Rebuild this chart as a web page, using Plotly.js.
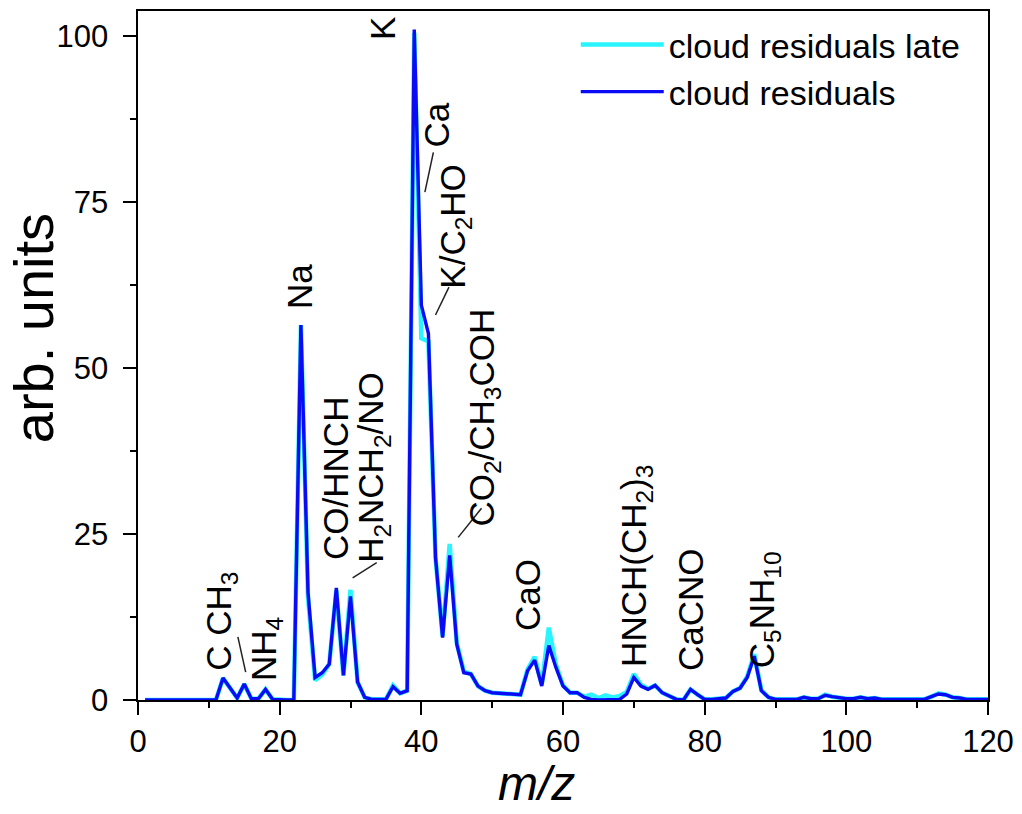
<!DOCTYPE html>
<html>
<head>
<meta charset="utf-8">
<script src="https://cdn.plot.ly/plotly-3.0.1.min.js"></script>
<style>html,body{margin:0;padding:0;background:#fff;}#chart{width:1022px;height:814px;}</style>
</head>
<body>
<div id="chart"></div>
<script>
const mz = [1,2,3,4,5,6,7,8,9,10,11,12,13,14,15,16,17,18,19,20,
  21,22,23,24,25,26,27,28,29,30,31,32,33,34,35,36,37,38,39,40,
  41,42,43,44,45,46,47,48,49,50,51,52,53,54,55,56,57,58,59,60,
  61,62,63,64,65,66,67,68,69,70,71,72,73,74,75,76,77,78,79,80,
  81,82,83,84,85,86,87,88,89,90,91,92,93,94,95,96,97,98,99,100,
  101,102,103,104,105,106,107,108,109,110,111,112,113,114,115,116,117,118,119,120];

const cloudResiduals = [0,0,0,0,0,0,0,0,0,0,0,3.3,1.8,0.3,2.4,0.2,0.2,1.6,0.1,0,
  0,0,56.5,16.2,3.4,4.1,5.4,16.9,3.7,15.6,2.7,0.4,0.1,0.1,0.1,2.0,1.0,1.4,101,59.5,
  55.2,21.5,9.4,21.8,8.4,4.1,3.9,2.1,1.4,1.1,1.0,0.9,0.8,0.8,4.4,6.0,2.1,8.2,4.9,2.1,
  1.1,1.1,0.4,0.1,0,0,0,0.1,0.9,3.4,2.1,1.6,2.2,1.1,0.6,0.1,0,1.6,0.8,0.1,
  0.1,0.2,0.3,1.3,1.8,3.4,6.6,1.4,0.4,0.1,0.1,0.1,0.1,0.4,0.2,0.2,0.7,0.5,0.3,0.2,
  0.2,0.4,0.2,0.3,0.1,0.1,0.1,0.1,0.1,0.1,0.1,0.5,0.9,0.8,0.4,0.3,0.1,0.1,0.1,0.1];

const cloudResidualsLate = [0,0,0,0,0,0,0,0,0,0,0,3.3,1.8,0.3,2.4,0.2,0.2,1.6,0.1,0,
  0,0,56.5,15.5,3.0,3.8,5.4,16.5,3.7,16.6,2.7,0.4,0.1,0.1,0.1,2.2,1.0,1.4,100.5,54.5,
  54.0,21.5,9.6,23.5,8.6,4.3,3.9,2.1,1.4,1.1,1.0,0.9,0.8,0.8,4.6,6.5,2.3,10.9,5.3,2.2,
  1.1,1.1,0.5,0.8,0.3,0.7,0.4,0.6,1.2,3.9,2.3,1.7,2.2,1.1,0.6,0.1,0,1.6,0.8,0.1,
  0.1,0.2,0.3,1.3,1.8,3.5,6.9,1.5,0.4,0.1,0.1,0.1,0.1,0.4,0.2,0.2,0.8,0.5,0.3,0.2,
  0.2,0.4,0.2,0.3,0.1,0.1,0.1,0.1,0.1,0.1,0.1,0.5,1.0,0.8,0.4,0.3,0.1,0.1,0.1,0.1];

const seriesNames = ['cloud residuals late', 'cloud residuals'];

// peak labels: text, m/z position, intensity position
const labelTexts = ['C CH<sub>3</sub>', 'NH<sub>4</sub>', 'Na', 'CO/HNCH', 'H<sub>2</sub>NCH<sub>2</sub>/NO',
  'K', 'Ca', 'K/C<sub>2</sub>HO', 'CO<sub>2</sub>/CH<sub>3</sub>COH', 'CaO',
  'HNCH(CH<sub>2</sub>)<sub>3</sub>', 'CaCNO', 'C<sub>5</sub>NH<sub>10</sub>'];
const labelMz = [11.6, 18.0, 22.8, 27.9, 33.2, 34.6, 42.2, 44.7, 48.8, 54.9, 70.3, 78.1, 88.3];
const labelY = [11.8, 7.6, 62.3, 33.4, 35.0, 101.1, 86.7, 71.4, 42.5, 15.8, 20.2, 13.6, 13.6];

// leader lines: [mz0, y0, mz1, y1]
const leaderMz0 = [14.1, 30.3, 40.5, 42.0, 45.2];
const leaderY0 = [9.5, 18.4, 76.5, 58.0, 24.5];
const leaderMz1 = [15.2, 33.7, 41.7, 43.9, 48.5];
const leaderY1 = [4.2, 20.7, 82.5, 62.2, 28.9];

const FONT = 'Liberation Sans, Arial, sans-serif';
const NB = '\u00A0';

const traces = [
  {x: mz, y: cloudResidualsLate, name: seriesNames[0], type: 'scatter', mode: 'lines',
   line: {color: '#2af4ff', width: 4.5}},
  {x: mz, y: cloudResiduals, name: seriesNames[1], type: 'scatter', mode: 'lines',
   line: {color: '#0a0af5', width: 3.4}}
];

const annotations = labelTexts.map((t, i) => ({
  text: t, x: labelMz[i], y: labelY[i], xref: 'x', yref: 'y',
  showarrow: false, textangle: -90, xanchor: 'center', yanchor: 'middle',
  font: {family: FONT, size: 35, color: '#000'}
}));

// axis titles (placed as in the reference, slightly off-centre)
annotations.push({
  text: '<i>m/z</i>', xref: 'paper', yref: 'paper', x: 0.469, y: -0.1205,
  xanchor: 'center', yanchor: 'middle', showarrow: false,
  font: {family: FONT, size: 48, color: '#000'}
});
annotations.push({
  text: 'arb. units', xref: 'paper', yref: 'paper', x: -0.122, y: 0.54,
  xanchor: 'center', yanchor: 'middle', showarrow: false, textangle: -90,
  font: {family: FONT, size: 56, color: '#000'}
});

const shapes = leaderMz0.map((v, i) => ({
  type: 'line', xref: 'x', yref: 'y', x0: v, y0: leaderY0[i], x1: leaderMz1[i], y1: leaderY1[i],
  line: {color: '#222', width: 1.5}
}));

const layout = {
  width: 1022, height: 814,
  margin: {l: 138, r: 34, t: 11, b: 114},
  paper_bgcolor: '#fff', plot_bgcolor: '#fff',
  font: {family: FONT, color: '#000'},
  showlegend: true,
  legend: {x: 0.515, y: 0.993, xanchor: 'left', yanchor: 'top',
    font: {family: FONT, size: 34, color: '#000'}, bgcolor: 'rgba(0,0,0,0)',
    traceorder: 'normal', itemwidth: 83},
  xaxis: {
    range: [0, 120], showgrid: false, zeroline: false,
    showline: true, linecolor: '#000', linewidth: 2, mirror: true,
    ticks: 'outside', ticklen: 13, tickwidth: 2, tickcolor: '#000',
    dtick: 20, tick0: 0,
    minor: {dtick: 10, ticks: 'outside', ticklen: 6, tickwidth: 2, tickcolor: '#000', showgrid: false},
    tickfont: {family: FONT, size: 31, color: '#000'}
  },
  yaxis: {
    range: [0, 103.8], showgrid: false, zeroline: false,
    showline: true, linecolor: '#000', linewidth: 2, mirror: true,
    ticks: 'outside', ticklen: 13, tickwidth: 2, tickcolor: '#000',
    dtick: 25, tick0: 0, ticksuffix: NB,
    minor: {dtick: 12.5, ticks: 'outside', ticklen: 6, tickwidth: 2, tickcolor: '#000', showgrid: false},
    tickfont: {family: FONT, size: 31, color: '#000'}
  },
  annotations: annotations,
  shapes: shapes
};

Plotly.newPlot('chart', traces, layout, {displayModeBar: false, staticPlot: true});
</script>
</body>
</html>
